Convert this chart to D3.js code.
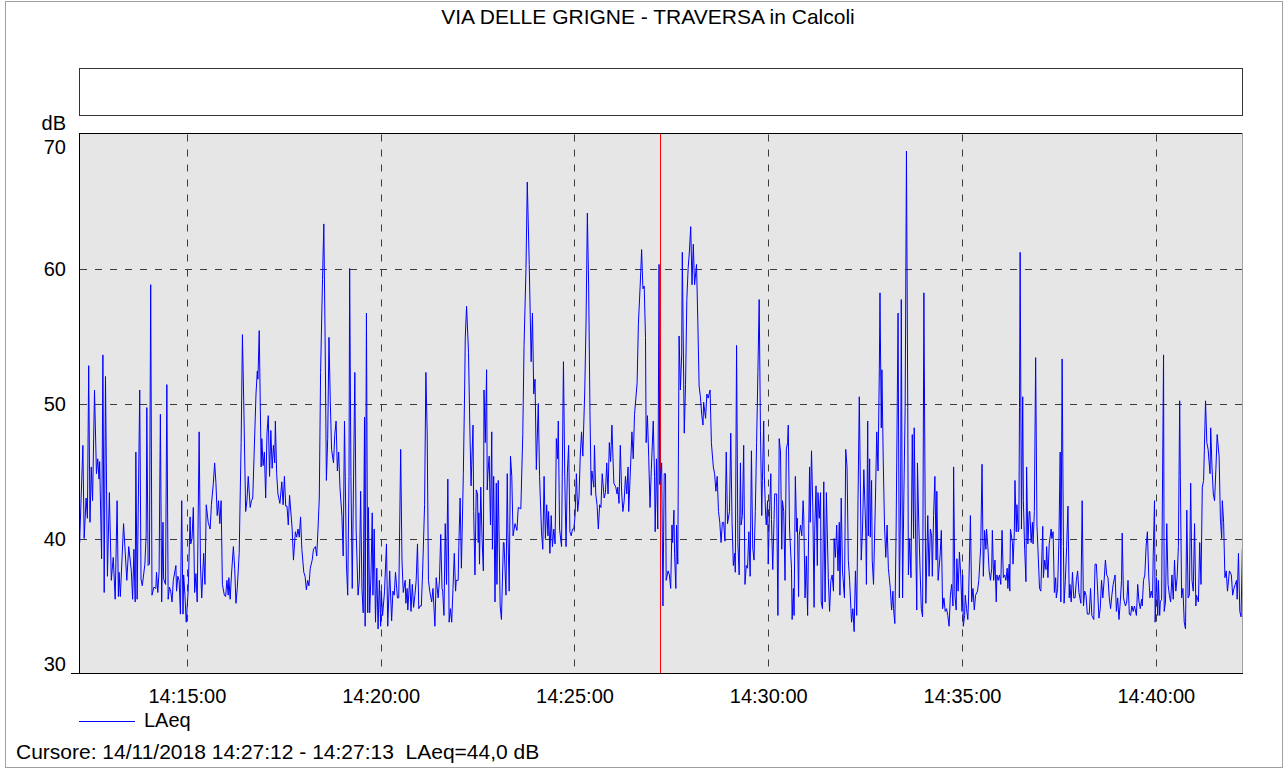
<!DOCTYPE html>
<html>
<head>
<meta charset="utf-8">
<script src="https://cdn.jsdelivr.net/npm/d3@7"></script>
<style>
  html, body { margin: 0; padding: 0; background: #ffffff; }
  svg { display: block; font-family: "Liberation Sans", Arial, Helvetica, sans-serif; }
</style>
</head>
<body>
<svg id="chart" width="1288" height="769"></svg>
<script>
// ---------------- data ----------------
const chartTitle = "VIA DELLE GRIGNE - TRAVERSA in Calcoli";
const seriesName = "LAeq";
const unitLabel = "dB";
const cursorText = "Cursore: 14/11/2018 14:27:12 - 14:27:13  LAeq=44,0 dB";
const measureDate = [2018, 10, 14];            // 14/11/2018 (month is 0-based)
const sampleOrigin = "14:12:00";               // sample seconds are counted from here
const xDomainLabels = ["14:12:13", "14:42:15"];
const xTickLabels = ["14:15:00", "14:20:00", "14:25:00", "14:30:00", "14:35:00", "14:40:00"];
const yTickValues = [30, 40, 50, 60, 70];
const yDomain = [30, 70];
const cursorTime = "14:27:12";

// LAeq samples: [seconds after 14:12:00, dB]
const laeqSamples = [
[13,42.0],[14,39.7],[19,46.9],[21,40.0],[24,43.0],[26,41.5],[28,52.8],[30,41.2],[32,45.3],[34,42.8],[37,51.0],[40,44.8],[42,45.9],[44,44.4],[45,45.7],[48,38.5],[50,53.6],[52,36.0],[54,52.0],[57,37.2],[60,43.4],[63,36.9],[66,38.6],[69,35.5],[72,42.8],[74,35.7],[75,37.5],[77,35.7],[82,41.1],[87,36.9],[90,39.4],[94,37.6],[96,35.5],[98,39.2],[100,35.3],[101,46.4],[103,35.5],[107,51.0],[109,37.0],[111,36.5],[115,38.1],[117,40.3],[118,49.7],[120,38.0],[122,38.1],[124,58.8],[126,35.8],[129,36.4],[132,36.3],[133,37.5],[135,36.0],[137,37.6],[139,49.2],[141,35.3],[143,41.2],[144,37.0],[147,36.6],[149,51.4],[151,35.5],[153,36.4],[155,36.1],[157,35.3],[159,36.9],[163,38.0],[164,36.1],[166,37.2],[168,36.9],[170,34.4],[172,42.8],[174,34.4],[175,37.3],
[177,35.8],[179,33.8],[182,36.1],[185,41.6],[186,39.6],[188,40.0],[190,42.3],[192,36.0],[194,37.4],[196,35.3],[199,47.9],[201,38.1],[203,35.6],[206,38.9],[208,36.6],[210,42.5],[213,41.2],[216,40.7],[218,42.5],[221,44.1],[223,45.6],[225,44.1],[227,41.7],[229,42.8],[231,41.1],[233,42.8],[235,36.6],[238,35.8],[240,35.7],[242,36.9],[244,35.8],[245,37.1],[247,35.5],[249,37.3],[252,39.4],[254,37.8],[256,35.2],[258,36.3],[261,38.9],[264,47.1],[266,55.1],[268,50.2],[271,42.0],[273,42.8],[275,44.6],[278,42.3],[280,42.8],[282,43.0],[284,46.1],[287,50.7],[289,52.4],[290,51.8],[292,55.4],[295,45.3],[296,47.4],[298,45.4],[300,46.4],[302,43.0],[304,47.8],[306,49.1],[308,44.6],[310,48.0],[312,45.2],[314,46.9],[316,45.6],[317,48.7],[319,44.8],[321,43.3],[324,42.6],[327,44.2],[329,42.5],[331,44.6],[333,42.4],[335,42.4],[337,41.0],[339,43.2],
[343,40.7],[345,38.4],[348,40.5],[350,40.1],[352,40.7],[354,40.1],[356,41.6],[358,39.2],[361,37.5],[363,37.2],[365,36.2],[367,36.9],[369,36.5],[371,37.8],[374,38.4],[376,39.2],[379,39.4],[381,38.7],[383,40.7],[385,43.0],[387,52.3],[390,59.2],[392,63.3],[394,54.9],[396,44.3],[398,47.4],[400,54.9],[402,50.2],[404,46.6],[407,45.6],[409,47.7],[411,48.7],[413,45.0],[415,46.4],[417,43.8],[420,41.7],[422,38.7],[424,48.7],[427,38.1],[429,35.8],[431,44.6],[432,60.0],[434,44.6],[436,36.3],[440,52.3],[442,40.7],[445,35.8],[447,36.9],[449,43.5],[451,36.3],[453,34.5],[455,49.0],[456,33.5],[458,56.7],[460,34.5],[461,42.3],[463,34.5],[465,37.3],[467,41.9],[468,35.8],[470,40.7],[472,33.8],[474,37.8],[476,33.3],[478,36.9],[480,33.5],[481,36.1],[483,34.3],[486,36.1],[489,39.6],[491,33.5],[494,37.6],[497,33.9],[499,36.1],[501,35.8],[503,37.5],[506,35.6],
[508,35.6],[511,46.6],[513,38.4],[515,36.0],[518,36.9],[519,35.2],[521,36.3],[522,34.7],[525,37.0],[527,34.6],[529,36.6],[531,34.9],[533,35.8],[535,36.9],[537,39.6],[539,34.8],[541,35.0],[543,35.0],[545,37.6],[548,42.5],[550,52.3],[552,47.9],[554,36.9],[556,36.1],[559,35.3],[561,36.3],[564,33.5],[566,37.1],[569,35.6],[571,36.9],[573,40.3],[575,36.3],[576,36.1],[578,34.3],[580,41.1],[582,36.6],[584,44.4],[586,33.8],[588,34.8],[590,33.8],[592,36.3],[594,38.9],[596,36.1],[597,36.9],[600,36.9],[601,39.4],[603,43.0],[605,37.8],[608,44.8],[610,51.0],[611,54.9],[613,57.2],[616,53.8],[618,48.4],[620,43.9],[621,45.5],[623,48.4],[624,42.0],[626,37.3],[628,43.6],[630,43.3],[631,39.7],[632,41.9],[633,38.1],[635,43.8],[637,40.0],[639,37.6],[640,51.0],[642,47.1],[644,52.5],[645,43.6],[646,44.8],[648,46.1],[650,41.0],[652,47.9],[653,39.2],[655,44.6],[657,35.3],[659,44.1],[660,36.6],[662,44.3],[665,35.0],[667,34.0],[670,39.7],[671,39.7],
[674,35.8],[676,44.8],[677,40.5],[679,36.1],[681,46.1],[683,44.6],[685,40.2],[688,41.1],[691,40.6],[693,42.3],[697,42.2],[700,47.7],[702,54.3],[705,60.0],[707,66.4],[710,60.3],[713,53.1],[715,56.7],[717,50.7],[719,51.8],[721,45.1],[724,50.0],[726,44.6],[729,40.5],[731,39.2],[733,44.6],[735,40.0],[737,42.5],[739,40.2],[740,42.0],[742,38.9],[744,41.7],[746,39.4],[748,40.7],[750,39.6],[752,47.4],[754,45.9],[755,48.7],[757,40.7],[760,39.4],[763,53.1],[765,44.6],[767,39.4],[769,44.8],[771,46.9],[773,40.5],[775,40.2],[777,40.7],[779,40.7],[781,41.7],[783,44.8],[785,42.0],[787,43.0],[789,46.1],[791,47.9],[793,46.1],[796,51.0],[798,56.1],[800,64.1],[802,58.7],[804,49.5],[806,43.2],[807,45.0],[810,43.8],[811,46.9],[813,43.3],[815,42.5],[817,40.7],[819,42.5],[821,42.3],[823,44.8],[826,43.0],[828,43.4],[830,45.6],[832,43.3],[834,47.1],[836,45.7],[838,48.4],
[839,46.9],[841,44.1],[844,43.8],[846,43.3],[847,43.8],[849,42.6],[851,46.9],[853,43.5],[855,42.0],[857,42.8],[859,44.6],[861,43.3],[863,45.3],[864,42.0],[866,44.3],[869,47.9],[871,45.9],[873,49.2],[877,51.5],[879,55.9],[882,59.0],[884,61.4],[886,58.5],[888,58.7],[890,54.9],[891,47.1],[893,49.1],[895,46.0],[897,42.3],[899,45.1],[902,48.7],[904,44.6],[905,40.5],[907,45.9],[909,40.7],[911,60.3],[912,44.0],[915,45.6],[917,35.0],[919,44.8],[921,44.8],[922,36.9],[925,37.6],[927,37.3],[929,36.3],[931,41.0],[932,39.7],[934,42.1],[935,38.9],[937,36.3],[938,41.0],[940,38.1],[942,55.0],[944,51.0],[946,53.6],[947,61.2],[950,47.8],[952,51.4],[954,57.7],[956,60.0],[958,61.3],[960,63.1],[962,58.8],[964,61.8],[966,58.8],[969,60.3],[971,56.1],[973,51.3],[975,50.5],[977,49.2],[979,48.4],[980,50.1],[983,48.9],[985,50.7],[987,50.4],[990,51.0],[992,47.1],[995,45.3],[997,44.8],[999,43.5],[1001,44.6],[1003,42.0],
[1005,41.2],[1007,39.7],[1009,41.2],[1011,41.2],[1013,39.8],[1015,46.4],[1017,41.1],[1020,42.0],[1022,47.8],[1024,41.2],[1026,38.0],[1028,38.9],[1029,37.5],[1031,54.3],[1033,39.7],[1035,37.3],[1037,45.6],[1038,41.0],[1040,41.7],[1042,46.9],[1044,36.6],[1046,38.0],[1048,37.8],[1050,40.5],[1052,37.2],[1054,46.5],[1056,39.3],[1058,38.4],[1060,42.0],[1062,47.1],[1064,52.3],[1066,57.7],[1068,47.9],[1070,41.7],[1071,44.3],[1073,48.7],[1074,44.6],[1076,41.7],[1077,41.0],[1079,42.8],[1080,38.1],[1082,42.0],[1084,44.8],[1085,41.4],[1087,37.7],[1089,41.4],[1090,43.3],[1093,43.3],[1095,34.3],[1097,47.4],[1099,46.4],[1101,39.2],[1102,42.8],[1104,42.0],[1106,36.9],[1108,46.6],[1110,47.1],[1111,48.4],[1113,40.7],[1116,37.8],[1117,34.0],[1119,36.3],[1120,34.3],[1122,44.6],[1124,40.5],[1125,41.5],[1127,35.7],[1128,40.2],[1130,41.0],[1132,40.2],[1134,42.8],[1135,41.7],[1137,35.6],[1139,38.7],[1141,34.3],[1142,38.4],[1144,45.3],[1145,41.2],[1147,46.5],[1149,42.3],[1151,34.9],[1152,40.7],[1154,43.9],[1156,38.0],[1157,43.4],[1159,41.5],[1161,43.4],[1162,35.3],[1164,34.8],[1166,44.2],[1168,35.3],[1170,43.4],
[1173,37.1],[1175,34.6],[1177,36.9],[1179,37.3],[1181,36.1],[1182,40.0],[1184,38.6],[1186,41.0],[1188,37.6],[1190,41.2],[1191,35.8],[1193,43.0],[1195,37.6],[1198,35.6],[1200,46.6],[1202,45.3],[1204,38.4],[1206,36.9],[1208,34.8],[1209,33.8],[1211,34.8],[1213,33.1],[1215,37.6],[1217,34.3],[1219,42.8],[1221,50.5],[1224,38.4],[1226,40.7],[1228,45.1],[1231,40.5],[1232,36.6],[1234,48.7],[1235,40.2],[1237,45.9],[1238,40.1],[1240,44.3],[1241,38.4],[1243,36.6],[1246,43.0],[1248,47.9],[1250,45.0],[1252,52.5],[1253,58.2],[1255,48.2],[1256,52.5],[1258,45.9],[1260,41.0],[1262,38.6],[1264,41.0],[1266,37.8],[1269,36.3],[1271,34.7],[1273,36.1],[1274,34.8],[1276,33.7],[1278,40.7],[1281,56.7],[1283,35.6],[1285,43.0],[1286,57.7],[1288,35.6],[1290,43.3],[1292,49.7],[1294,68.7],[1296,49.7],[1297,37.3],[1299,40.0],[1301,37.1],[1303,47.7],[1305,40.0],[1306,48.2],[1308,40.7],[1310,34.7],[1311,45.6],[1313,41.2],[1315,37.8],[1317,34.8],[1319,34.2],[1321,58.2],[1323,41.7],[1324,35.2],[1327,41.7],[1329,37.2],[1331,40.7],[1333,40.2],[1334,37.2],
[1336,41.7],[1338,44.6],[1340,38.4],[1341,43.5],[1343,36.9],[1346,38.7],[1348,40.6],[1350,34.8],[1352,35.6],[1354,34.6],[1356,34.8],[1358,34.3],[1360,33.5],[1362,35.8],[1364,36.6],[1366,35.0],[1367,45.3],[1369,35.8],[1371,34.7],[1372,38.5],[1374,36.1],[1376,39.0],[1378,37.3],[1380,34.6],[1381,37.3],[1382,33.5],[1384,34.3],[1385,35.8],[1387,34.8],[1389,34.0],[1390,35.3],[1393,41.7],[1395,35.3],[1397,36.3],[1399,34.7],[1401,35.8],[1404,36.1],[1406,36.9],[1409,39.4],[1411,45.5],[1413,37.2],[1415,40.6],[1417,39.2],[1418,40.7],[1420,39.4],[1422,37.6],[1424,36.9],[1426,37.8],[1427,40.6],[1429,36.9],[1431,38.4],[1433,35.3],[1434,37.3],[1436,36.9],[1438,37.3],[1440,36.6],[1442,40.6],[1444,37.1],[1446,37.3],[1448,36.9],[1450,37.8],[1451,36.3],[1453,38.1],[1454,36.1],[1455,40.7],[1458,39.7],[1459,38.1],[1461,40.5],[1462,44.3],[1464,40.5],[1465,42.5],[1467,40.5],[1468,40.7],[1469,49.7],[1470,61.2],[1472,40.7],[1474,50.5],[1475,42.8],[1477,39.2],[1479,36.8],[1480,45.3],[1482,39.6],[1484,42.0],[1485,42.0],[1487,39.7],[1489,41.2],[1490,39.6],[1492,42.0],[1494,53.4],[1496,41.0],[1498,38.7],[1500,36.3],
[1502,36.1],[1505,40.9],[1506,37.1],[1508,38.4],[1510,37.7],[1511,39.4],[1513,37.1],[1515,39.6],[1518,40.7],[1519,40.0],[1521,40.5],[1523,36.0],[1525,37.1],[1526,35.6],[1528,36.3],[1530,39.8],[1532,46.4],[1533,35.3],[1535,53.3],[1537,39.4],[1538,35.2],[1540,36.9],[1542,39.4],[1544,42.4],[1546,35.6],[1547,36.6],[1549,35.3],[1551,37.5],[1553,35.6],[1555,35.6],[1557,36.9],[1559,37.6],[1561,36.0],[1564,35.2],[1566,42.8],[1568,35.0],[1570,36.1],[1572,35.8],[1574,34.4],[1577,34.4],[1579,36.3],[1581,34.3],[1584,34.0],[1586,38.1],[1588,38.1],[1590,36.1],[1592,34.1],[1594,34.8],[1596,36.9],[1598,35.6],[1600,36.9],[1602,38.4],[1604,37.3],[1606,37.1],[1608,35.6],[1610,34.8],[1612,35.8],[1614,36.6],[1617,37.3],[1619,34.6],[1621,35.6],[1623,34.0],[1625,35.3],[1627,36.9],[1628,40.4],[1630,35.6],[1633,35.0],[1635,35.3],[1637,36.9],[1639,34.4],[1641,34.3],[1643,35.0],[1645,34.6],[1647,35.0],[1650,34.3],[1652,36.6],[1654,35.3],[1656,34.8],[1658,35.5],[1659,35.0],[1661,36.9],[1663,37.3],[1665,39.4],[1667,40.5],
[1669,37.3],[1671,35.6],[1673,36.1],[1675,35.6],[1676,38.7],[1678,42.8],[1679,33.8],[1681,37.1],[1683,34.3],[1684,36.9],[1686,34.3],[1687,35.3],[1689,35.5],[1692,53.6],[1693,34.6],[1695,35.3],[1697,41.1],[1699,36.6],[1701,35.8],[1703,35.3],[1705,37.3],[1707,35.5],[1709,38.4],[1711,36.1],[1713,37.1],[1715,39.4],[1717,50.2],[1718,44.6],[1720,35.6],[1722,36.3],[1724,33.8],[1726,33.3],[1728,42.1],[1730,35.6],[1732,35.8],[1734,44.1],[1736,36.9],[1738,36.1],[1740,41.1],[1742,35.0],[1743,35.8],[1746,35.3],[1748,39.7],[1750,36.6],[1752,43.8],[1754,44.3],[1756,48.2],[1757,50.2],[1759,47.1],[1761,46.6],[1764,44.8],[1765,48.2],[1767,45.3],[1769,43.3],[1771,42.8],[1773,45.1],[1775,47.7],[1778,46.1],[1780,41.5],[1782,40.0],[1783,42.8],[1785,41.2],[1787,37.1],[1789,37.6],[1791,36.1],[1794,37.6],[1797,37.3],[1799,35.8],[1801,36.3],[1803,36.6],[1805,36.9],[1806,35.5],[1808,38.9],[1810,34.6],[1812,34.2],[1814,39.2],[1815,38.9]
];

// ---------------- helpers ----------------
function atClock(hms) {
  const [h, m, s] = hms.split(":").map(Number);
  return new Date(measureDate[0], measureDate[1], measureDate[2], h, m, s);
}
const origin = atClock(sampleOrigin);
const series = laeqSamples.map(([sec, v]) => ({ t: new Date(origin.getTime() + sec * 1000), v }));

// ---------------- layout ----------------
const W = 1288, H = 769;
const plot = { left: 79, right: 1243, top: 133.5, bottom: 673.5 };
const FONT = 20;
const BIG = 21;

const svg = d3.select("#chart");

const x = d3.scaleTime()
  .domain(xDomainLabels.map(atClock))
  .range([plot.left, plot.right]);
const y = d3.scaleLinear()
  .domain(yDomain)
  .range([plot.bottom, plot.top]);

// outer frame
svg.append("rect")
  .attr("x", 5.5).attr("y", 1.5)
  .attr("width", W - 11).attr("height", H - 3)
  .attr("fill", "#ffffff").attr("stroke", "#a0a0a0").attr("stroke-width", 1);

// title
svg.append("text")
  .attr("x", 648).attr("y", 24)
  .attr("text-anchor", "middle")
  .attr("font-size", BIG).attr("fill", "#000")
  .text(chartTitle);

// empty box under title
svg.append("rect")
  .attr("x", 79.5).attr("y", 68.5)
  .attr("width", 1163).attr("height", 47)
  .attr("fill", "#ffffff").attr("stroke", "#333333").attr("stroke-width", 1);

// plot background
svg.append("rect")
  .attr("x", plot.left).attr("y", plot.top)
  .attr("width", plot.right - plot.left).attr("height", plot.bottom - plot.top)
  .attr("fill", "#e6e6e6");

// grid
const grid = svg.append("g");
grid.selectAll("line.h")
  .data(yTickValues.filter(v => v > yDomain[0] && v < yDomain[1]))
  .join("line")
  .attr("x1", plot.left + 1).attr("x2", plot.right)
  .attr("y1", d => Math.round(y(d)) + 0.5).attr("y2", d => Math.round(y(d)) + 0.5)
  .attr("stroke", "#3c3c3c").attr("stroke-width", 1)
  .attr("stroke-dasharray", "7,8");
grid.selectAll("line.v")
  .data(xTickLabels.map(atClock))
  .join("line")
  .attr("x1", d => Math.round(x(d)) + 0.5).attr("x2", d => Math.round(x(d)) + 0.5)
  .attr("y1", plot.top + 1).attr("y2", plot.bottom)
  .attr("stroke", "#3c3c3c").attr("stroke-width", 1)
  .attr("stroke-dasharray", "7,8");

// cursor line
svg.append("line")
  .attr("x1", Math.round(x(atClock(cursorTime))) + 0.5)
  .attr("x2", Math.round(x(atClock(cursorTime))) + 0.5)
  .attr("y1", plot.top).attr("y2", plot.bottom)
  .attr("stroke", "#ff0000").attr("stroke-width", 1);

// clip
svg.append("clipPath").attr("id", "plotClip")
  .append("rect")
  .attr("x", plot.left).attr("y", plot.top)
  .attr("width", plot.right - plot.left).attr("height", plot.bottom - plot.top);

// series line
const line = d3.line().x(d => x(d.t)).y(d => y(d.v));
svg.append("path")
  .datum(series)
  .attr("clip-path", "url(#plotClip)")
  .attr("fill", "none")
  .attr("stroke", "#0000ff")
  .attr("stroke-width", 1)
  .attr("stroke-linejoin", "miter")
  .attr("d", line);

// frame lines
svg.append("line").attr("x1", plot.left).attr("x2", plot.right)
  .attr("y1", 133.5).attr("y2", 133.5).attr("stroke", "#000");
svg.append("line").attr("x1", plot.left + 0.5).attr("x2", plot.left + 0.5)
  .attr("y1", 133).attr("y2", 674).attr("stroke", "#000");
svg.append("line").attr("x1", plot.right - 0.5).attr("x2", plot.right - 0.5)
  .attr("y1", 133).attr("y2", 674).attr("stroke", "#a0a0a0");
svg.append("line").attr("x1", 71).attr("x2", plot.right)
  .attr("y1", 673.5).attr("y2", 673.5).attr("stroke", "#000");

// x axis labels
const xAxis = d3.axisBottom(x)
  .tickValues(xTickLabels.map(atClock))
  .tickFormat(d3.timeFormat("%H:%M:%S"))
  .tickSize(0)
  .tickPadding(15);
const gx = svg.append("g")
  .attr("transform", `translate(0,${plot.bottom})`)
  .call(xAxis);
gx.select(".domain").remove();
gx.selectAll("text")
  .attr("font-family", "Liberation Sans, Arial, sans-serif")
  .attr("font-size", FONT).attr("fill", "#000");

// y labels
svg.append("g").selectAll("text")
  .data(yTickValues)
  .join("text")
  .attr("x", 66)
  .attr("y", d => Math.max(plot.top + 20.5, Math.min(plot.bottom - 2.5, y(d) + 7.2)))
  .attr("text-anchor", "end")
  .attr("font-size", FONT).attr("fill", "#000")
  .text(d => d);

svg.append("text")
  .attr("x", 66).attr("y", 130)
  .attr("text-anchor", "end")
  .attr("font-size", FONT).attr("fill", "#000")
  .text(unitLabel);

// legend
svg.append("line")
  .attr("x1", 79).attr("x2", 135)
  .attr("y1", 721.5).attr("y2", 721.5)
  .attr("stroke", "#0000ff").attr("stroke-width", 1);
svg.append("text")
  .attr("x", 144).attr("y", 727)
  .attr("font-size", FONT).attr("fill", "#000")
  .text(seriesName);

// cursor text
svg.append("text")
  .attr("x", 16).attr("y", 759)
  .attr("font-size", BIG).attr("fill", "#000")
  .style("white-space", "pre")
  .text(cursorText);
</script>
</body>
</html>
